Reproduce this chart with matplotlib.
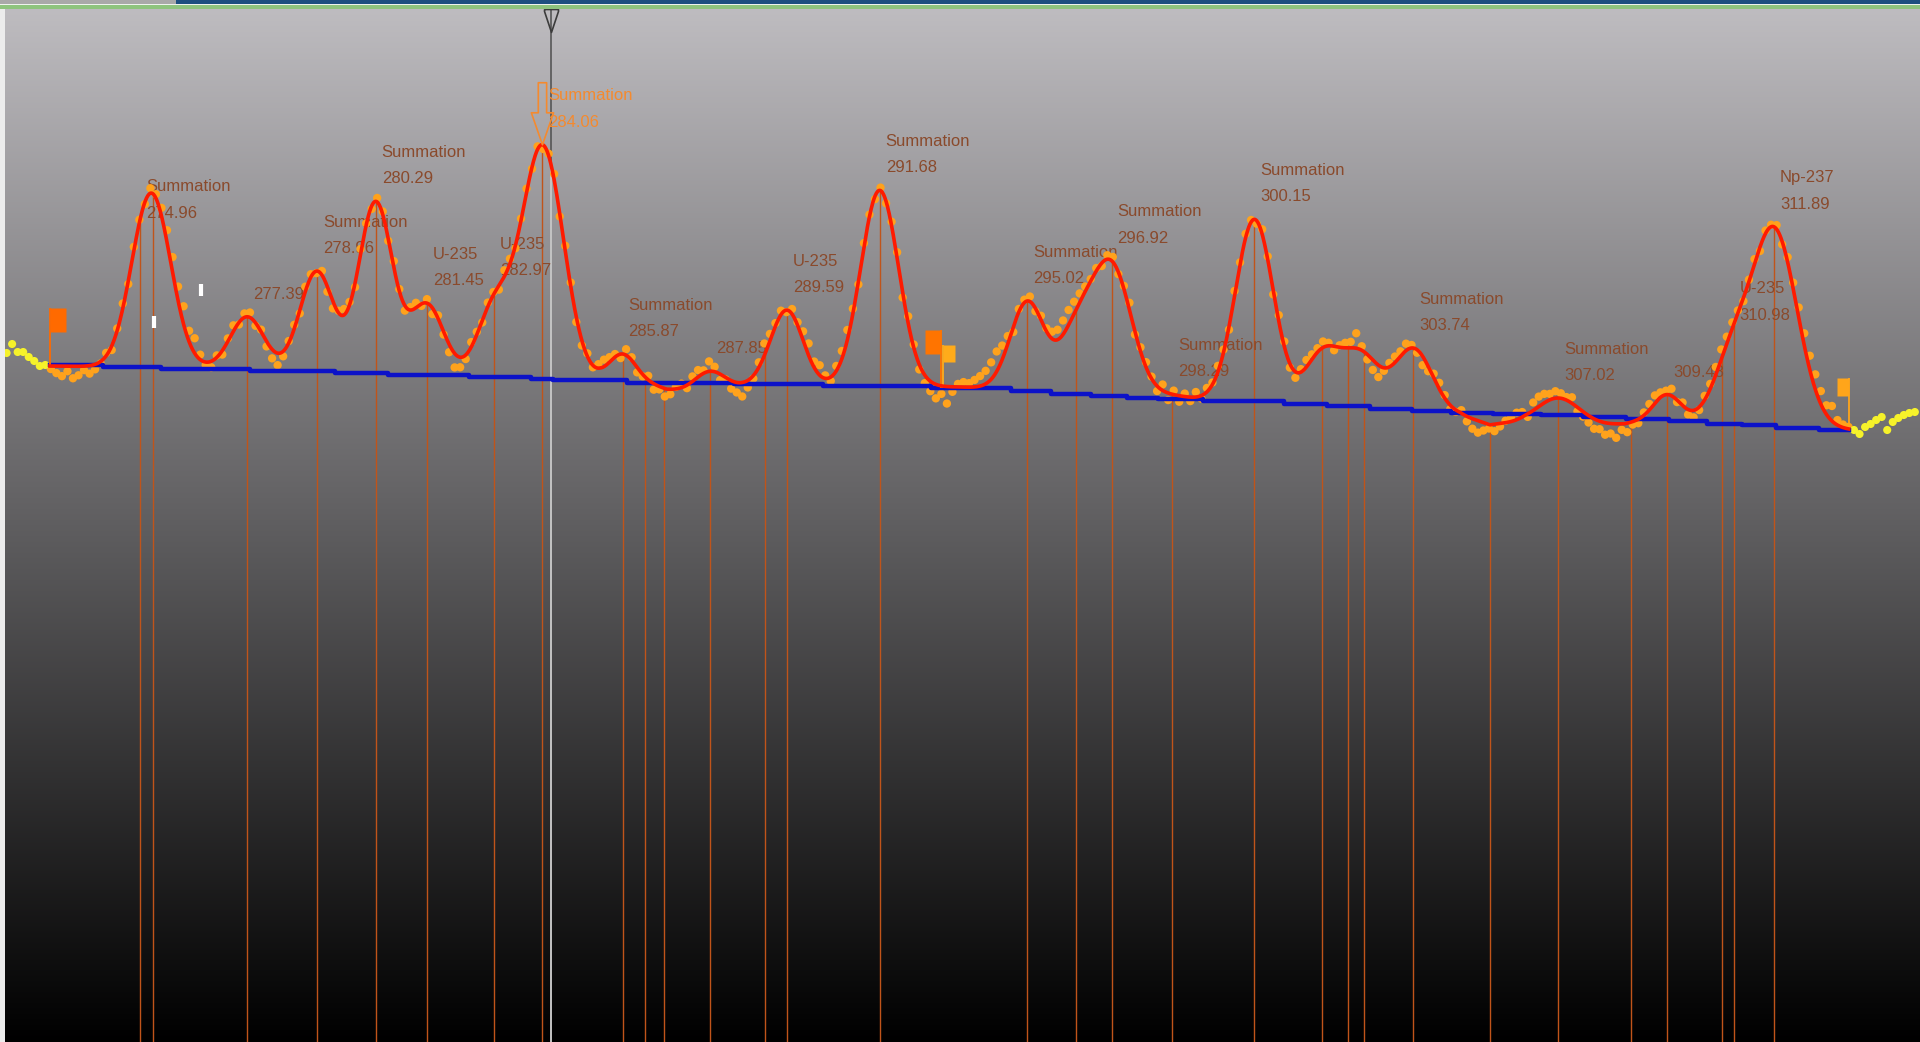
import numpy as np
import matplotlib
matplotlib.use('Agg')
import matplotlib.pyplot as plt
from matplotlib import font_manager
from matplotlib.patches import Rectangle
from matplotlib.transforms import blended_transform_factory

# fitted peaks: centroid (keV), net height (counts), sigma (keV)
peak_energy = [274.96, 275.26, 277.39, 278.96, 280.29, 281.45, 282.97, 284.06,
               285.87, 286.38, 286.80, 287.85, 289.09, 289.59, 291.68, 295.02,
               296.12, 296.92, 298.29, 300.15, 301.68, 302.27, 302.63, 303.74,
               305.48, 307.02, 308.66, 309.48, 310.71, 310.98, 311.89]
peak_height = [50, 310, 106, 202, 344, 142, 136, 468,
               62, 8, 6, 36, 8, 150, 392, 176,
               110, 256, 6, 366, 100, 36, 80, 124,
               6, 52, 6, 54, 30, 90, 394]
peak_sigma = [0.384, 0.429, 0.384, 0.384, 0.384, 0.384, 0.384, 0.475,
              0.316, 0.340, 0.340, 0.339, 0.339, 0.362, 0.429, 0.384,
              0.384, 0.452, 0.384, 0.429, 0.384, 0.384, 0.384, 0.430,
              0.384, 0.475, 0.384, 0.316, 0.384, 0.384, 0.520]
# None = no tag, '' = energy only
peak_nuclide = ['Summation', None, '', 'Summation', 'Summation', 'U-235', 'U-235', 'Summation',
                'Summation', None, None, '', None, 'U-235', 'Summation', 'Summation',
                None, 'Summation', 'Summation', 'Summation', None, None, None, 'Summation',
                None, 'Summation', None, '', None, 'U-235', 'Np-237']

# continuum under the fit (keV, counts)
cont_energy = [272.91, 276.43, 278.58, 282.20, 285.36, 286.26, 286.87, 287.62,
               288.59, 290.56, 293.50, 295.08, 298.47, 300.95, 303.89, 304.80,
               305.47, 306.27, 307.73, 308.52, 309.32, 310.22, 312.03, 313.61]
cont_counts = [1352, 1348, 1340, 1330, 1320, 1304, 1296, 1304,
               1310, 1312, 1310, 1304, 1286, 1276, 1262, 1252,
               1228, 1238, 1234, 1230, 1240, 1240, 1230, 1224]

# stepped ROI baseline, each level starts at its edge
base_edges = [272.93, 274.13, 275.44, 277.45, 279.37, 280.57, 282.40, 283.80,
              284.30, 285.97, 288.39, 290.40, 292.83, 294.64, 295.55, 296.46,
              297.27, 297.97, 298.98, 300.82, 301.79, 302.76, 303.72, 304.59,
              305.55, 306.62, 307.58, 308.55, 309.51, 310.38, 311.16, 311.93,
              312.90]
base_levels = [1354, 1351, 1347, 1343, 1339, 1335, 1331, 1327,
               1324, 1319, 1317, 1313, 1309, 1303, 1297, 1293,
               1289, 1286, 1283, 1276, 1272, 1267, 1263, 1259,
               1257, 1254, 1251, 1247, 1243, 1237, 1234, 1229,
               1224]
base_end = 313.58

# ROI limits
roi_energy = [272.93, 293.06, 293.11, 313.58]
roi_kind = ['start', 'end', 'start', 'end']
roi_flag_top = [1468, 1424, 1394, 1328]

# spectrum: 0.125 keV channels
chan_width = 0.125
roi_start = 272.95
# measured counts minus fit, per channel inside the ROIs
resid = [
    -6, -14, -20, -10, -24, -18, -8, -16,
    -10, -4, 6, -8, 4, 10, -6, 8,
    6, -4, 10, 8, 16, 24, 30, 28,
    36, 22, 30, 10, -6, -12, 4, -8,
    6, 12, -4, 8, 10, -6, 4, -10,
    -18, -24, -10, 4, 8, -6, 10, 6,
    -4, 8, -10, -14, 4, 12, 6, -8,
    10, 4, -6, 8, 6, -4, 12, 4,
    -10, 6, 10, -4, 8, -12, 6, -6,
    -16, -28, -20, -8, 10, 6, -4, 8,
    6, -8, 12, 10, -6, 4, 8, -4,
    6, -8, 4, 12, -6, 10, 8, -10,
    -10, 6, -4, 8, 14, 10, 6, -8,
    12, 6, -10, -4, 8, -12, -6, -16,
    -10, 4, 8, -6, 10, 14, 6, 20,
    10, -12, -4, -16, -20, -28, -14, -6,
    10, 24, 14, 6, 8, -4, 10, 6,
    18, 24, 12, 20, 6, -8, 10, 16,
    20, 10, -6, 8, 4, -6, 6, -4,
    8, 12, -10, 14, 6, -10, -16, -20,
    -28, -16, -34, -10, 6, 10, 8, 14,
    20, 26, 34, 40, 28, 16, -10, 6,
    6, 10, -6, 8, 6, 14, 20, 28,
    30, 24, 18, 10, 4, 6, -6, 8,
    10, -4, 6, 14, -6, 8, 10, 4,
    -10, 12, -14, 8, -12, 6, -8, 10,
    -6, 8, 4, 12, 6, -6, 10, 4,
    8, 4, -6, 10, 6, -8, 12, 10,
    -8, -12, 6, 14, 10, 8, 12, 6,
    -8, 4, 10, 12, 30, 8, -10, -20,
    -24, -6, 8, 12, 10, 14, 6, -6,
    -18, -10, 8, 12, 6, -8, -4, 6,
    -10, -20, -24, -16, -8, -14, -6, 4,
    8, 14, 10, -6, 16, 20, 18, 12,
    14, 10, 6, 12, -8, -10, -14, -20,
    -16, -24, -20, -28, -12, -18, -6, -8,
    6, 12, 16, 10, 8, 14, -4, 6,
    -10, -14, -6, 8, 10, 16, 20, 14,
    12, 6, -6, 4, 10, -8, 6, 4,
    8, -6, 10, 12, 20, 24, 28, 30,
    26, 18, 30, 10, 6, 4,
]
# counts outside the ROIs
left_start = 271.95
left_counts = [1378, 1396, 1380, 1380, 1370, 1362, 1352, 1354]
right_start = 313.70
right_counts = [1224, 1216, 1230, 1236, 1244, 1250, 1224, 1240, 1248, 1254, 1258, 1260]

# peak search ticks
mark_energy = [275.28, 276.34]
mark_counts = [1440, 1504]

cursor_energy = 284.25
highlight = 284.06

pe = np.array(peak_energy)
ph = np.array(peak_height, dtype=float)
ps = np.array(peak_sigma)


def fit(e):
    e = np.atleast_1d(np.asarray(e, dtype=float))
    g = ph * np.exp(-0.5 * ((e[:, None] - pe) / ps) ** 2)
    return np.interp(e, cont_energy, cont_counts) + g.sum(axis=1)


def base_at(e):
    i = np.searchsorted(base_edges, e, side='right') - 1
    return np.array(base_levels)[np.clip(i, 0, len(base_levels) - 1)]


# narrow face for the peak tags if there is one
names = {f.name for f in font_manager.fontManager.ttflist}
narrow = [n for n in ['Liberation Sans Narrow', 'Nimbus Sans Narrow', 'Arial Narrow'] if n in names]
if narrow:
    label_font, label_size, label_spacing = narrow[0], 14.5, 1.75
else:
    label_font, label_size, label_spacing = 'Liberation Sans', 12, 1.95

W, H = 1920, 1042
fig = plt.figure(figsize=(W / 100, H / 100), dpi=100)

# window chrome: title strip, green rule, left border
fig.add_artist(Rectangle((0, 1 - 4 / H), 176 / W, 4 / H, transform=fig.transFigure, color='#a9a9a9', lw=0))
fig.add_artist(Rectangle((176 / W, 1 - 4 / H), 1 - 176 / W, 4 / H, transform=fig.transFigure, color='#1d4f80', lw=0))
fig.add_artist(Rectangle((0, 1 - 5 / H), 1, 1 / H, transform=fig.transFigure, color='#eef2ee', lw=0))
fig.add_artist(Rectangle((0, 1 - 9 / H), 1, 4 / H, transform=fig.transFigure, color='#8ec47e', lw=0))
fig.add_artist(Rectangle((0, 0), 5 / W, 1 - 9 / H, transform=fig.transFigure, color='#ececec', lw=0))

ax = fig.add_axes([5 / W, 0, 1 - 5 / W, 1 - 9 / H])
x0, x1, y0, y1 = 271.914, 315.191, 0, 2066
ax.set_xlim(x0, x1)
ax.set_ylim(y0, y1)
ax.axis('off')

# grey-to-black background
shade = np.linspace(1, 0, 512)[:, None, None] * np.array([0.745, 0.737, 0.752])
ax.imshow(shade, extent=[x0, x1, y0, y1], aspect='auto', zorder=0, interpolation='bilinear')

# peak markers
ax.vlines(pe, 0, fit(pe), colors='#c0541a', lw=1.0, zorder=1)

# cursor
ytop = fit(cursor_energy)[0]
ax.vlines(cursor_energy, ytop, y1, colors='#4e4e4e', lw=1.1, zorder=1)
ax.vlines(cursor_energy, 0, ytop, colors='#c4c4c4', lw=1.4, zorder=1)
tri = [(-7, 0), (7, 0), (7, -2), (0, -23), (-7, -2), (-7, 0)]
bt = blended_transform_factory(ax.transData, ax.transAxes)
ax.plot([cursor_energy], [1.0], transform=bt, marker=tri, ms=33, mfc='none',
        mec='#3c3c3c', mew=1.2, ls='none', clip_on=False, zorder=6)

# labels
brown = '#8a4a2c'
orange = '#f58a2e'
label_rise = {274.96: 0, 310.98: 2}
for e, name in zip(peak_energy, peak_nuclide):
    if name is None:
        continue
    txt = f'{e:.2f}' if name == '' else f'{name}\n{e:.2f}'
    ax.annotate(txt, xy=(e, fit(e)[0]), xytext=(6, label_rise.get(e, 15)),
                textcoords='offset pixels', ha='left', va='bottom',
                fontsize=label_size, family=[label_font, 'DejaVu Sans'],
                linespacing=label_spacing,
                color=orange if e == highlight else brown, zorder=2)

ax.annotate('', xy=(highlight, fit(highlight)[0]), xytext=(0, 62), textcoords='offset pixels',
            arrowprops=dict(arrowstyle='simple,head_length=2.3,head_width=1.6,tail_width=0.6',
                            fc='none', ec=orange, lw=1.2, shrinkA=0, shrinkB=0,
                            mutation_scale=10), zorder=6)

# spectrum points
chan_e = roi_start + chan_width * np.arange(len(resid))
ax.scatter(chan_e, fit(chan_e) + np.array(resid), s=36, c='#ffa21c', edgecolors='none', zorder=3)
left_e = left_start + chan_width * np.arange(len(left_counts))
right_e = right_start + chan_width * np.arange(len(right_counts))
ax.scatter(np.r_[left_e, right_e], np.r_[left_counts, right_counts], s=34, c='#f6f22a',
           edgecolors='none', zorder=3)

# ROI baseline
ax.step(base_edges + [base_end], base_levels + [base_levels[-1]], where='post',
        color='#0c12c8', lw=3.2, zorder=4)

# ROI flags
flag_r = [(0, 0), (2, 0), (2, -3), (0, -3), (0, 0)]
flag_l = [(0, 0), (-2, 0), (-2, -3), (0, -3), (0, 0)]
flag_color = ['#ff6a00', '#ff7400', '#ffab1a', '#ffa51a']
flag_size = [35, 35, 25, 26]
for e, kind, top, c, sz in zip(roi_energy, roi_kind, roi_flag_top, flag_color, flag_size):
    ax.vlines(e, base_at(e), top, colors=c, lw=1.3, zorder=4)
    ax.plot([e], [top], marker=flag_r if kind == 'start' else flag_l, ms=sz,
            mfc=c, mec='none', ls='none', zorder=4)

# fit
ee = np.linspace(roi_energy[0], roi_energy[-1], 3000)
ax.plot(ee, fit(ee), color='#ff1a00', lw=2.6, zorder=5)

# peak search ticks
ax.plot(mark_energy, mark_counts, ls='none', marker='|', ms=9, mew=3, color='white', zorder=6)

fig.savefig('out.png', dpi=100)
